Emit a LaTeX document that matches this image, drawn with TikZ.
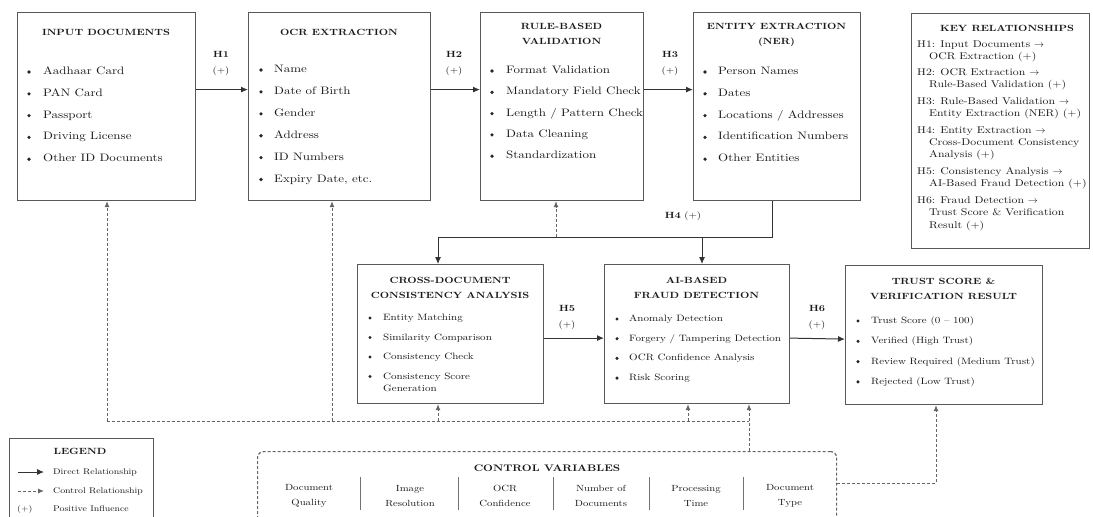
\documentclass[tikz,border=0pt]{standalone}
\usepackage{fontspec}
\setmainfont{lmroman10-regular.otf}[BoldFont=lmroman10-bold.otf,FakeStretch=1.2]
\usetikzlibrary{arrows.meta,calc}
\tikzset{
  box/.style={draw=black!65, line width=1.2pt, fill=white, inner sep=0pt},
  ttl/.style={font=\bfseries\fontsize{9}{15}\selectfont, inner sep=0pt, text=black!90, align=center},
  titem/.style={font=\fontsize{10.8}{13}\selectfont, anchor=west, inner sep=0pt, text height=.7em, text depth=.2em, text=black!90},
  mitem/.style={font=\fontsize{9.2}{11}\selectfont, anchor=west, inner sep=0pt, text height=.7em, text depth=.2em, text=black!90},
  kitem/.style={font=\fontsize{9.8}{12}\selectfont, anchor=west, inner sep=0pt, text height=.7em, text depth=.2em, text=black!90},
  litem/.style={font=\fontsize{8.2}{10}\selectfont, anchor=west, inner sep=0pt, text height=.7em, text depth=.2em, text=black!90},
  cvitem/.style={font=\fontsize{8.9}{15}\selectfont, inner sep=0pt, align=center, text=black!90},
  hl/.style={font=\bfseries\fontsize{9}{11}\selectfont, inner sep=0pt, text=black!90},
  pl/.style={font=\fontsize{9}{11}\selectfont, inner sep=0pt, text=black!90},
  bul/.style={fill=black!85},
  arr/.style={draw=black!80, line width=1pt, -{Latex[length=7pt,width=6pt]}},
  plainline/.style={draw=black!80, line width=1pt},
  ctl/.style={draw=black!60, line width=0.9pt, dash pattern=on 3pt off 2pt, -{Latex[length=6pt,width=5pt]}},
  ctlline/.style={draw=black!60, line width=0.9pt, dash pattern=on 3pt off 2pt},
  sepl/.style={draw=black!55, line width=0.8pt},
}
\begin{document}
\begin{tikzpicture}[x=1pt,y=-1pt]
\useasboundingbox (0,0) rectangle (1093,517);
\fill[white] (0,0) rectangle (1093,517);
\clip (0,0) rectangle (1093,517);

% ---------- top row boxes ----------
\node[box, anchor=north west, minimum width=178pt, minimum height=188pt] (inp) at (17,12) {};
\node[box, anchor=north west, minimum width=182pt, minimum height=188pt] (ocr) at (248,12) {};
\node[box, anchor=north west, minimum width=163pt, minimum height=188pt] (rule) at (480,12) {};
\node[box, anchor=north west, minimum width=167pt, minimum height=188pt] (ent) at (693,12) {};
\node[box, anchor=north west, minimum width=178pt, minimum height=235pt] (key) at (911,13) {};

\node[ttl] (inp-t) at (106,32) {INPUT DOCUMENTS};
\node[ttl] (ocr-t) at (339,32) {OCR EXTRACTION};
\node[ttl] (rule-t) at (561.5,34) {RULE-BASED\\VALIDATION};
\node[ttl] (ent-t) at (776.5,35) {ENTITY EXTRACTION\\(NER)};

\foreach \t [count=\i] in {Aadhaar Card, PAN Card, Passport, Driving License, Other ID Documents}{
  \pgfmathsetmacro{\yy}{72+(\i-1)*21.8}
  \fill[bul] (29,\yy) circle (1.8);
  \node[titem] (inp-\i) at (43,\yy) {\t};
}
\foreach \t [count=\i] in {Name, Date of Birth, Gender, Address, ID Numbers, {Expiry Date, etc.}}{
  \pgfmathsetmacro{\yy}{70+(\i-1)*21.9}
  \fill[bul] (261,\yy) circle (1.8);
  \node[titem] (ocr-\i) at (274,\yy) {\t};
}
\foreach \t [count=\i] in {Format Validation, Mandatory Field Check, Length / Pattern Check, Data Cleaning, Standardization}{
  \pgfmathsetmacro{\yy}{71+(\i-1)*21.3}
  \fill[bul] (492,\yy) circle (1.8);
  \node[titem] (rule-\i) at (506,\yy) {\t};
}
\foreach \t [count=\i] in {Person Names, Dates, Locations / Addresses, Identification Numbers, Other Entities}{
  \pgfmathsetmacro{\yy}{72+(\i-1)*21.8}
  \fill[bul] (705,\yy) circle (1.8);
  \node[titem] (ent-\i) at (718,\yy) {\t};
}

% ---------- key relationships ----------
\node[ttl] (key-t) at (1007,28) {KEY RELATIONSHIPS};
\foreach \x/\y/\t [count=\i] in {
  917/45/{H1: Input Documents $\rightarrow$},
  929/57/{OCR Extraction (+)},
  917/73/{H2: OCR Extraction $\rightarrow$},
  929/85/{Rule-Based Validation (+)},
  917/102/{H3: Rule-Based Validation $\rightarrow$},
  929/114/{Entity Extraction (NER) (+)},
  917/131/{H4: Entity Extraction $\rightarrow$},
  929/143/{Cross-Document Consistency},
  929/155/{Analysis (+)},
  917/172/{H5: Consistency Analysis $\rightarrow$},
  929/184/{AI-Based Fraud Detection (+)},
  917/201/{H6: Fraud Detection $\rightarrow$},
  929/213/{Trust Score \& Verification},
  929/226/{Result (+)}}{
  \node[kitem] (key-\i) at (\x,\y) {\t};
}

% ---------- middle row boxes ----------
\node[box, anchor=north west, minimum width=186pt, minimum height=139pt] (cross) at (357,264) {};
\node[box, anchor=north west, minimum width=185pt, minimum height=139pt] (ai) at (604,264) {};
\node[box, anchor=north west, minimum width=197pt, minimum height=139pt] (trust) at (845,265) {};

\node[ttl] (cross-t) at (450,288) {CROSS-DOCUMENT\\CONSISTENCY ANALYSIS};
\node[ttl] (ai-t) at (696.5,288) {AI-BASED\\FRAUD DETECTION};
\node[ttl] (trust-t) at (943.5,289) {TRUST SCORE \&\\VERIFICATION RESULT};

\foreach \t [count=\i] in {Entity Matching, Similarity Comparison, Consistency Check, Consistency Score}{
  \pgfmathsetmacro{\yy}{318+(\i-1)*19.5}
  \fill[bul] (370,\yy) circle (1.7);
  \node[mitem] (cross-\i) at (383,\yy) {\t};
}
\node[mitem] (cross-5) at (383,389) {Generation};
\foreach \t [count=\i] in {Anomaly Detection, Forgery / Tampering Detection, OCR Confidence Analysis, Risk Scoring}{
  \pgfmathsetmacro{\yy}{319+(\i-1)*19.7}
  \fill[bul] (617,\yy) circle (1.7);
  \node[mitem] (ai-\i) at (629,\yy) {\t};
}
\foreach \t [count=\i] in {Trust Score (0 – 100), Verified (High Trust), Review Required (Medium Trust), Rejected (Low Trust)}{
  \pgfmathsetmacro{\yy}{321+(\i-1)*20.3}
  \fill[bul] (858,\yy) circle (1.7);
  \node[mitem] (trust-\i) at (871,\yy) {\t};
}

% ---------- direct relationships ----------
\draw[arr] ([yshift=17pt]inp.east) -- ([yshift=17pt]ocr.west);
\draw[arr] ([yshift=17pt]ocr.east) -- ([yshift=17pt]rule.west);
\draw[arr] ([yshift=17pt]rule.east) -- ([yshift=17pt]ent.west);
\node[hl] (h1) at (221,54) {H1};
\node[pl] (h1p) at (221,71) {(+)};
\node[hl] (h2) at (454,54) {H2};
\node[pl] (h2p) at (454,71) {(+)};
\node[hl] (h3) at (670,54) {H3};
\node[pl] (h3p) at (670,71) {(+)};

\coordinate (h4r) at (772,237);
\coordinate (h4m) at (702,237);
\coordinate (h4l) at (438,237);
\draw[plainline] (h4r |- ent.south) -- (h4r) -- (h4l);
\draw[arr] (h4l) -- (h4l |- cross.north);
\draw[arr] (h4m) -- (h4m |- ai.north);
\node[pl] (h4) at (683,216) {\textbf{H4} (+)};

\draw[arr] ([yshift=-4pt]cross.east) -- ([yshift=-4pt]ai.west);
\draw[arr] ([yshift=-4pt]ai.east) -- ([yshift=-4pt]trust.west);
\node[hl] (h5) at (567,308) {H5};
\node[pl] (h5p) at (567,325) {(+)};
\node[hl] (h6) at (817,308) {H6};
\node[pl] (h6p) at (817,325) {(+)};

% ---------- control variables box ----------
\node[box, draw=black!60, dash pattern=on 3pt off 2pt, rounded corners=6pt, anchor=north west, minimum width=579pt, minimum height=100pt] (ctrl) at (257,451) {};
\node[ttl, font=\bfseries\fontsize{9.5}{11}\selectfont] (ctrl-t) at (547,468) {CONTROL VARIABLES};
\foreach \x/\t [count=\i] in {309/{Document\\Quality}, 410/{Image\\Resolution}, 505/{OCR\\Confidence}, 601/{Number of\\Documents}, 696/{Processing\\Time}, 790/{Document\\Type}}{
  \node[cvitem] (cv-\i) at (\x,496) {\t};
}
\foreach \x in {360,458,553,649,743}{
  \draw[sepl] (\x,477) -- (\x,510);
}

% ---------- control relationships ----------
\coordinate (c1) at (107,421);
\coordinate (c2) at (332,421);
\coordinate (c3) at (438,421);
\coordinate (c4) at (688,421);
\coordinate (c5) at (749,421);
\coordinate (c6) at (556,237);
\coordinate (c7) at (936,483);
\draw[ctlline] (c1) -- (c5);
\draw[ctl] (c1) -- (c1 |- inp.south);
\draw[ctl] (c2) -- (c2 |- ocr.south);
\draw[ctl] (c3) -- (c3 |- cross.south);
\draw[ctl] (c4) -- (c4 |- ai.south);
\draw[ctl] (c5 |- ctrl.north) -- (c5 |- ai.south);
\draw[ctl] (c6) -- (c6 |- rule.south);
\draw[ctl] (ctrl.east |- c7) -- (c7) -- (c7 |- trust.south);

% ---------- legend ----------
\node[box, anchor=north west, minimum width=144pt, minimum height=100pt] (leg) at (9,438) {};
\node[ttl] (leg-t) at (80,451) {LEGEND};
\coordinate (la1) at (18,472); \coordinate (la2) at (44,472);
\coordinate (lb1) at (18,491); \coordinate (lb2) at (44,491);
\draw[arr, line width=0.9pt] (la1) -- (la2);
\draw[ctl] (lb1) -- (lb2);
\node[litem] (leg-1) at (53,472) {Direct Relationship};
\node[litem] (leg-2) at (53,491) {Control Relationship};
\node[litem] (leg-3) at (17,509) {(+)};
\node[litem] (leg-4) at (53,509) {Positive Influence};
\end{tikzpicture}
\end{document}
